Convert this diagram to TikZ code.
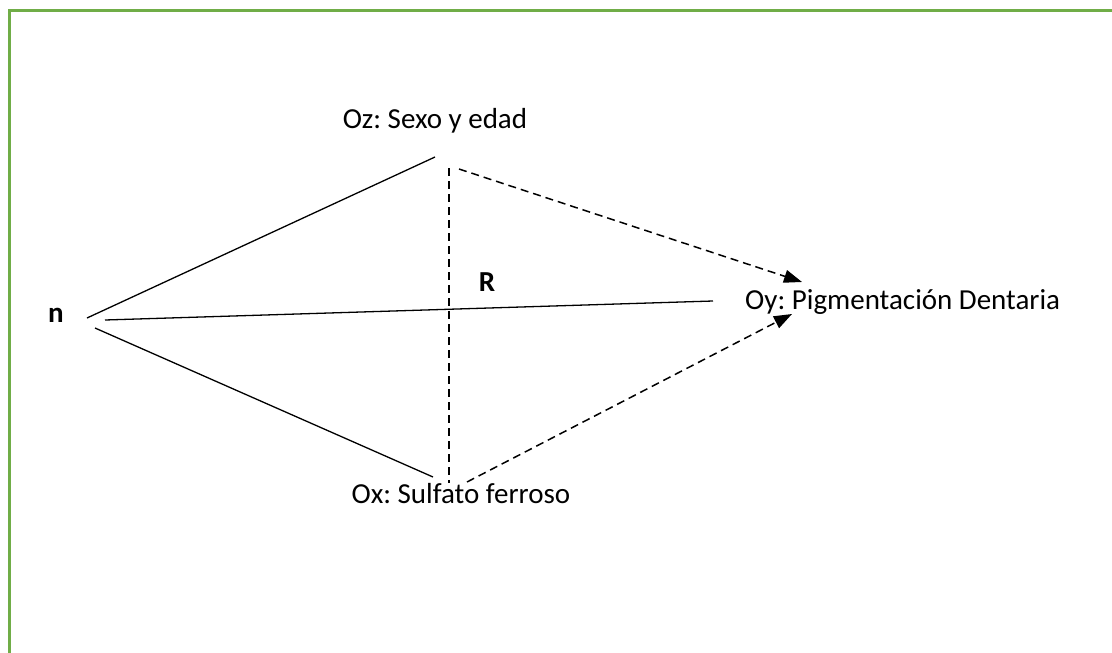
\documentclass[tikz,border=0pt]{standalone}
\usepackage{fontspec}
\setmainfont{Carlito}
\usetikzlibrary{arrows.meta}
\definecolor{frame}{RGB}{112,173,71}
\tikzset{
  lbl/.style={inner sep=0pt, font=\fontsize{29}{34}\selectfont},
  solidline/.style={line width=1.3pt},
  dashline/.style={line width=1.5pt, dash pattern=on 8pt off 5pt},
  arr/.style={-{Triangle[length=18pt,width=13pt]}}
}
\frenchspacing
\begin{document}
\begin{tikzpicture}[x=1pt,y=-1pt]
\useasboundingbox (0,0) rectangle (1112,653);
\draw[frame, line width=3pt] (9.5,700) -- (9.5,10.5) -- (1130,10.5);
% labels
\node[lbl, anchor=base] (oz) at (435,128) {Oz: Sexo y edad};
\node[lbl, anchor=base] (ox) at (461,503) {Ox: Sulfato ferroso};
\node[lbl, anchor=base west] (oy) at (745,309) {Oy: Pigmentación Dentaria};
\node[lbl, font=\fontsize{29}{34}\selectfont\bfseries, anchor=base] (n) at (56,322) {n};
\node[lbl, font=\fontsize{29}{34}\selectfont\bfseries, anchor=base] (r) at (487,291) {R};
% anchor coordinates
\coordinate (nu) at (87,318);
\coordinate (nm) at (105,320);
\coordinate (nl) at (95,328);
\coordinate (zl) at (435,157);
\coordinate (xl) at (433,477);
\coordinate (ym) at (713,301);
\coordinate (vt) at (449,168);
\coordinate (vb) at (449,483);
\coordinate (zd) at (459,169);
\coordinate (xd) at (467,482);
\coordinate (yt) at (802,282);
\coordinate (yb) at (792,314);
% lines
\draw[solidline] (nu) -- (zl);
\draw[solidline] (nm) -- (ym);
\draw[solidline] (nl) -- (xl);
\draw[dashline] (vt) -- (vb);
\draw[dashline, arr] (zd) -- (yt);
\draw[dashline, arr] (xd) -- (yb);
\end{tikzpicture}
\end{document}
